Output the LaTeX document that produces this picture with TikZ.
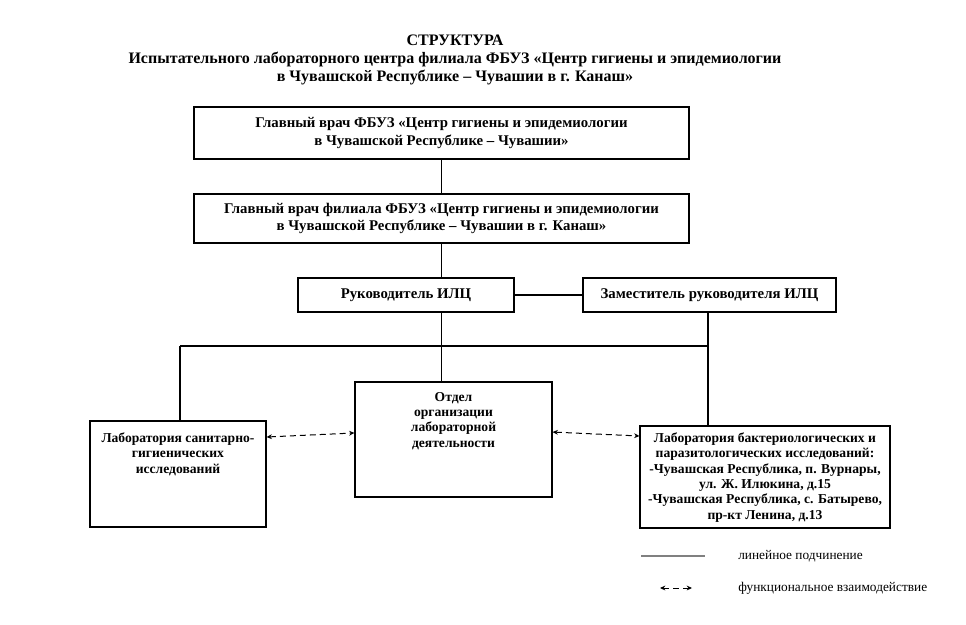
\documentclass[tikz,border=0pt]{standalone}
\usepackage{fontspec}
\setmainfont{Liberation Serif}
\usetikzlibrary{arrows.meta}
\begin{document}
\begin{tikzpicture}[x=0.75pt,y=-0.75pt,
  box/.style={draw, line width=0.8pt, inner sep=0pt},
  txt/.style={font=\bfseries\fontsize{11.1}{12.8}\selectfont, align=center},
  stxt/.style={font=\bfseries\fontsize{10.2}{11.5}\selectfont, align=center, inner sep=0pt},
  conn/.style={line width=0.8pt},
  func/.style={line width=0.75pt, dash pattern=on 4.5pt off 3pt, {Stealth[length=4pt,width=3.6pt]}-{Stealth[length=4pt,width=3.6pt]}},
  legtxt/.style={font=\fontsize{10}{12}\selectfont, anchor=west, inner sep=0pt}]
\useasboundingbox (0,0) rectangle (966,624);

\node[font=\bfseries\fontsize{12}{13.5}\selectfont, align=center] (title) at (455,60)
  {СТРУКТУРА\\Испытательного лабораторного центра филиала ФБУЗ «Центр гигиены и эпидемиологии\\в Чувашской Республике – Чувашии в г. Канаш»};

\node[box, txt, minimum width={495*0.75pt}, minimum height={52*0.75pt}] (b1) at (441.5,133)
  {Главный врач ФБУЗ «Центр гигиены и эпидемиологии\\в Чувашской Республике – Чувашии»};
\node[box, txt, minimum width={495*0.75pt}, minimum height={49*0.75pt}] (b2) at (441.5,218.5)
  {Главный врач филиала ФБУЗ «Центр гигиены и эпидемиологии\\в Чувашской Республике – Чувашии в г. Канаш»};
\node[box, txt, minimum width={216*0.75pt}, minimum height={34*0.75pt}] (ruk) at (406,295) {Руководитель ИЛЦ};
\node[box, txt, minimum width={253*0.75pt}, minimum height={34*0.75pt}] (zam) at (709.5,295) {Заместитель руководителя ИЛЦ};

\node[box, minimum width={197*0.75pt}, minimum height={115*0.75pt},
  label={[stxt, anchor=north, yshift=-7.8pt]north:Отдел\\организации\\лабораторной\\деятельности}] (otd) at (453.5,439.5) {};
\node[box, minimum width={176*0.75pt}, minimum height={106*0.75pt},
  label={[stxt, anchor=north, yshift=-9pt]north:Лаборатория санитарно-\\гигиенических\\исследований}] (lab1) at (178,474) {};
\node[box, minimum width={250*0.75pt}, minimum height={102*0.75pt},
  label={[stxt, anchor=north, yshift=-5.25pt]north:Лаборатория бактериологических и\\паразитологических исследований:\\-Чувашская Республика, п. Вурнары,\\ул. Ж. Илюкина, д.15\\-Чувашская Республика, с. Батырево,\\пр-кт Ленина, д.13}] (lab2) at (765,477) {};

\draw[conn] (b1.south) -- (b2.north);
\draw[conn] (b2.south) -- (b2.south |- ruk.north);
\draw[conn] (ruk.east) -- (zam.west);
\draw[conn] (ruk.south -| b2.south) -- (otd.north -| b2.south);
\coordinate (busL) at (180,346);
\coordinate (busR) at (708,346);
\draw[conn] (busL) -- (busR);
\draw[conn] (busL) -- (busL |- lab1.north);
\draw[conn] (zam.south -| busR) -- (lab2.north -| busR);

\draw[func] ([yshift=27.75pt]lab1.east) -- ([yshift=4.9pt]otd.west);
\draw[func] ([yshift=5.6pt]otd.east) -- ([yshift=30.75pt]lab2.west);

\coordinate (la) at (641,556);
\coordinate (lb) at (705,556);
\draw[gray, line width=1pt] (la) -- (lb);
\node[legtxt] (lt1) at (738,556) {линейное подчинение};
\coordinate (lc) at (660,588);
\coordinate (ld) at (692,588);
\draw[func] (lc) -- (ld);
\node[legtxt] (lt2) at (738,588) {функциональное взаимодействие};
\end{tikzpicture}
\end{document}
